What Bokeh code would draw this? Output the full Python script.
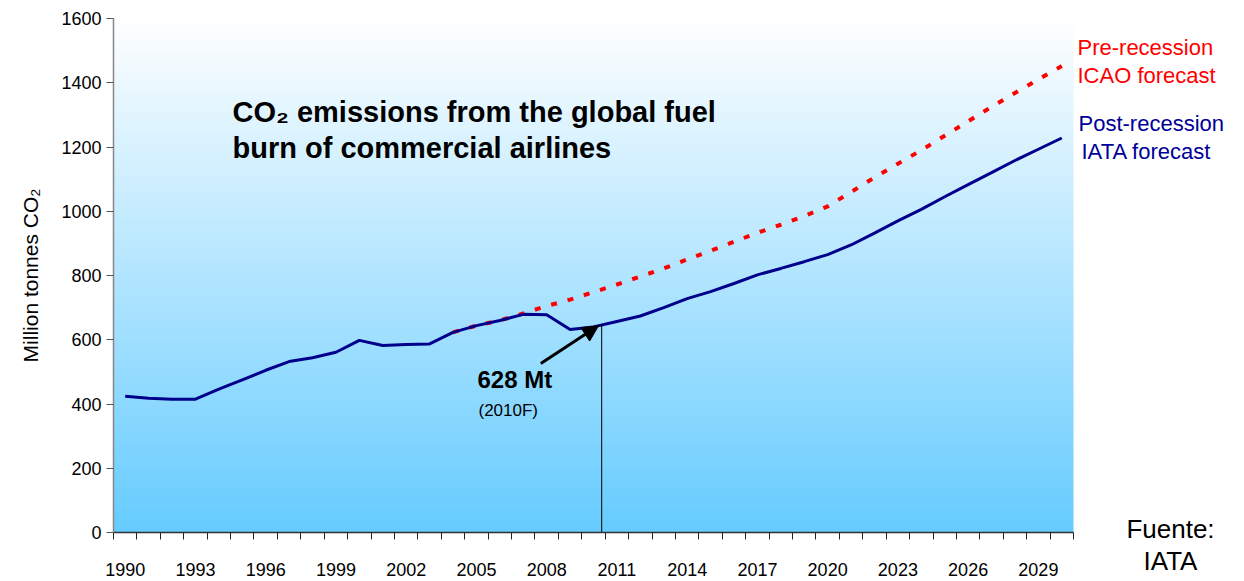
import numpy as np
from bokeh.plotting import figure
from bokeh.models import FixedTicker, Label, Arrow, NormalHead, Range1d, LinearAxis
from bokeh.embed import file_html
from bokeh.resources import INLINE

# ---------------- data ----------------
years = list(range(1990, 2031))
post_recession = [424, 418, 415, 415, 446, 475, 505, 532, 544, 561,
                  598, 582, 585, 587, 623, 644, 660, 679, 678, 632,
                  640, 657, 674, 700, 728, 750, 775, 802, 822, 843,
                  865, 895, 932, 970, 1006, 1045, 1083, 1120, 1158, 1193, 1228]
pre_years = list(range(2004, 2031))
pre_recession = [623, 644, 660, 682, 705, 725, 748, 772, 797, 822,
                 850, 877, 905, 933, 958, 985, 1015, 1060, 1105, 1148,
                 1190, 1235, 1280, 1325, 1368, 1410, 1452]
x_tick_years = list(range(1990, 2030, 3))
y_ticks = list(range(0, 1601, 200))
highlight_year = 2010
highlight_value = 628

FONT = "Liberation Sans"
NAVY = "#00008B"

W, H = 1240, 580
FL, FT = 113, 18                   # pixel column of the y axis / row of value 1600
AXIS_Y = 532                       # pixel row of value 0
FRAME_W = 960                      # pixel width of the 1990-2030 span
x0, x1 = years[0] - 0.5, years[-1] + 0.5
ppy = FRAME_W / (x1 - x0)          # pixels per year
ppv = (AXIS_Y - FT) / 1600.0       # pixels per unit

def dx(px):   # canvas px -> data x
    return x0 + (px - FL) / ppy

def dy(py):   # canvas px -> data y
    return (AXIS_Y - py) / ppv

p = figure(width=W, height=H,
           x_range=Range1d(dx(0), dx(W)), y_range=Range1d(dy(H), dy(0)),
           output_backend="svg", toolbar_location=None,
           x_axis_location=None, y_axis_location=None,
           min_border_left=0, min_border_right=0,
           min_border_top=0, min_border_bottom=0)
p.outline_line_color = None
p.xgrid.visible = False
p.ygrid.visible = False
p.background_fill_color = "white"
p.border_fill_color = "white"

# vertical gradient background (white top -> light blue bottom)
n = 512
img = np.empty((n, 1), dtype=np.uint32)
view = img.view(dtype=np.uint8).reshape((n, 1, 4))
f = np.linspace(0, 1, n)  # 0 bottom, 1 top
bottom = np.array([102, 204, 255])
top = np.array([255, 255, 255])
for c in range(3):
    view[:, 0, c] = (bottom[c] + (top[c] - bottom[c]) * f).astype(np.uint8)
view[:, 0, 3] = 255
p.image_rgba(image=[img], x=x0, y=0, dw=x1 - x0, dh=1600)

# lines
p.line(pre_years, pre_recession, line_color="#FF0000", line_width=4,
       line_dash="6 11")
p.line(years, post_recession, line_color=NAVY, line_width=3)

# vertical marker line at 2010
hx = highlight_year + 0.35
p.segment(x0=[hx], y0=[0], x1=[hx],
          y1=[post_recession[years.index(highlight_year)] + 8],
          line_color="black", line_width=1)

# arrow
p.add_layout(Arrow(end=NormalHead(size=16, fill_color="black", line_color="black"),
                   x_start=highlight_year - 2.25, y_start=526,
                   x_end=highlight_year + 0.22, y_end=644,
                   line_color="black", line_width=3))

def lab(px, py, text, size, color="black", bold=False, align="left"):
    p.add_layout(Label(x=dx(px), y=dy(py), text=text, text_font=FONT,
                       text_font_size=size, text_color=color,
                       text_font_style="bold" if bold else "normal",
                       text_baseline="middle", text_align=align))

lab(477, 379, f"{highlight_value} Mt", "24px", bold=True)
lab(478, 410, f"({highlight_year}F)", "17px")

lab(232, 111, "CO\u2082 emissions from the global fuel", "29px", bold=True)
lab(232, 147, "burn of commercial airlines", "29px", bold=True)

lab(1077, 47, "Pre-recession", "22px", color="#FF0000")
lab(1077, 75, "ICAO forecast", "22px", color="#FF0000")
lab(1078, 123, "Post-recession", "22px", color="#000099")
lab(1081, 151, "IATA forecast", "22px", color="#000099")
lab(1170, 528, "Fuente:", "26px", align="center")
lab(1170, 560, "IATA", "26px", align="center")

# x axis fixed at value 0
xa = LinearAxis(fixed_location=0, bounds=(x0, x1))
xa.ticker = FixedTicker(ticks=x_tick_years,
                        minor_ticks=[y - 0.5 for y in years] + [years[-1] + 0.5])
xa.major_tick_out = 0
xa.major_tick_in = 0
xa.minor_tick_out = 7
xa.minor_tick_in = 0
xa.minor_tick_line_color = "#222222"
xa.axis_line_color = "#333333"
xa.axis_line_width = 1.5
xa.major_label_standoff = 23
xa.major_label_text_font = FONT
xa.major_label_text_font_size = "18px"
xa.major_label_text_color = "black"
p.add_layout(xa, "below")

# y axis fixed at the left edge of the 1990 category
ya = LinearAxis(fixed_location=x0, bounds=(0, 1600))
ya.ticker = FixedTicker(ticks=y_ticks, minor_ticks=[])
ya.major_tick_out = 7
ya.major_tick_in = 0
ya.major_tick_line_color = "#555555"
ya.axis_line_color = "#888888"
ya.axis_line_width = 1.5
ya.major_label_standoff = 5
ya.major_label_text_font = FONT
ya.major_label_text_font_size = "18px"
ya.major_label_text_color = "black"
ya.axis_label = "Million tonnes CO\u2082"
ya.axis_label_text_font = FONT
ya.axis_label_text_font_size = "21px"
ya.axis_label_text_font_style = "normal"
ya.axis_label_text_color = "black"
ya.axis_label_standoff = 16
p.add_layout(ya, "left")

open("out.html", "w").write(file_html(p, INLINE))
